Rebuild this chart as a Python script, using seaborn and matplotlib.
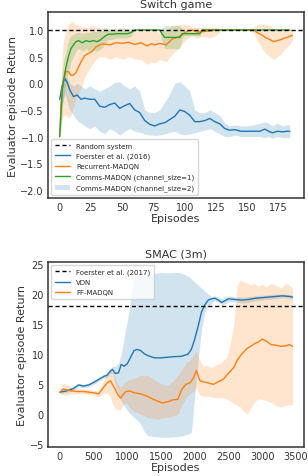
import numpy as np
import pandas as pd
import matplotlib
matplotlib.use("Agg")
import matplotlib.pyplot as plt
import seaborn as sns
from matplotlib.lines import Line2D
from matplotlib.patches import Patch

# ---------------- Switch game data ----------------
sw_blue_ep = [0, 2, 4, 6, 8, 11, 14, 17, 20, 24, 28, 32, 36, 40, 44, 48, 52, 56, 60, 64, 68, 72, 76, 80, 84,
              88, 92, 96, 100, 104, 108, 112, 116, 120, 124, 128, 132, 136, 140, 145, 150, 155, 160, 164, 167,
              170, 174, 178, 182, 184]
sw_blue_mean = [-0.3, -0.05, 0.09, 0.02, -0.12, -0.25, -0.22, -0.3, -0.28, -0.3, -0.3, -0.43, -0.45, -0.4, -0.37,
                -0.47, -0.42, -0.38, -0.5, -0.55, -0.7, -0.77, -0.8, -0.76, -0.74, -0.68, -0.62, -0.5, -0.53,
                -0.6, -0.72, -0.72, -0.7, -0.66, -0.72, -0.76, -0.85, -0.88, -0.87, -0.9, -0.9, -0.9, -0.9,
                -0.86, -0.9, -0.93, -0.9, -0.91, -0.9, -0.9]
sw_blue_hi = [-0.1, 0.05, 0.15, 0.1, 0.0, -0.05, 0.0, -0.05, -0.1, -0.05, -0.1, -0.15, -0.1, -0.05, 0.02, 0.03,
              -0.05, -0.1, -0.05, -0.15, -0.5, -0.55, -0.55, -0.5, -0.35, -0.2, 0.0, 0.03, -0.05, -0.15, -0.5,
              -0.55, -0.55, -0.5, -0.55, -0.6, -0.75, -0.8, -0.78, -0.8, -0.8, -0.78, -0.75, -0.72, -0.75, -0.8,
              -0.75, -0.8, -0.78, -0.78]
sw_blue_lo = [-0.6, -0.4, -0.2, -0.35, -0.5, -0.6, -0.7, -0.75, -0.8, -0.85, -0.8, -0.9, -0.95, -0.85, -0.9,
              -0.97, -0.9, -0.85, -0.9, -0.92, -0.95, -0.97, -0.98, -0.97, -0.95, -0.92, -0.9, -0.95, -0.97,
              -0.95, -0.93, -0.9, -0.88, -0.85, -0.9, -0.95, -1.0, -1.0, -0.97, -1.0, -1.0, -1.0, -1.0, -1.02,
              -1.0, -1.03, -1.0, -1.02, -1.02, -1.02]

sw_orange_ep = [0, 1, 2, 3, 5, 7, 9, 11, 13, 15, 17, 20, 23, 26, 29, 32, 35, 40, 45, 50, 55, 60, 65, 70, 73, 76,
                80, 85, 90, 95, 100, 103, 106, 110, 115, 120, 125, 130, 140, 150, 155, 158, 162, 165, 168, 171,
                174, 177, 180, 183, 186]
sw_orange_mean = [-1.0, -0.45, -0.1, 0.05, 0.22, 0.22, 0.15, 0.15, 0.2, 0.3, 0.4, 0.52, 0.56, 0.6, 0.68, 0.72,
                  0.74, 0.72, 0.76, 0.75, 0.77, 0.73, 0.76, 0.7, 0.74, 0.72, 0.75, 0.72, 0.83, 0.87, 0.95, 0.98,
                  1.0, 0.96, 0.97, 0.98, 1.0, 1.0, 1.0, 1.0, 1.0, 0.95, 0.9, 0.85, 0.82, 0.78, 0.8, 0.82, 0.85,
                  0.87, 0.9]
sw_orange_hi = [-0.8, 0.0, 0.5, 0.8, 1.0, 1.1, 1.15, 1.15, 1.1, 1.1, 1.05, 1.05, 1.05, 1.1, 1.05, 1.05, 1.0, 1.0,
                1.0, 1.05, 1.0, 1.0, 1.0, 1.0, 1.0, 1.0, 0.95, 1.0, 1.08, 1.1, 1.1, 1.1, 1.05, 1.05, 1.05, 1.05,
                1.05, 1.0, 1.0, 1.0, 1.05, 1.1, 1.12, 1.1, 1.08, 1.02, 1.0, 1.0, 1.02, 1.02, 1.0]
sw_orange_lo = [-1.0, -0.8, -0.65, -0.6, -0.6, -0.65, -0.6, -0.45, -0.3, -0.2, -0.1, 0.1, 0.25, 0.35, 0.45, 0.5,
                0.5, 0.45, 0.5, 0.45, 0.5, 0.45, 0.45, 0.35, 0.4, 0.38, 0.45, 0.4, 0.55, 0.65, 0.8, 0.85, 0.9,
                0.85, 0.88, 0.85, 0.9, 1.0, 1.0, 1.0, 0.95, 0.8, 0.65, 0.55, 0.5, 0.45, 0.5, 0.55, 0.65, 0.7, 0.8]

sw_green_ep = [0, 1, 2, 3, 5, 7, 9, 11, 13, 15, 18, 21, 24, 27, 30, 33, 36, 39, 42, 46, 50, 54, 57, 60, 70, 80,
               82, 84, 96, 98, 100, 102, 104, 112, 114, 116, 130, 150, 170, 184]
sw_green_mean = [-1.0, -0.6, -0.15, 0.05, 0.3, 0.5, 0.65, 0.72, 0.78, 0.8, 0.76, 0.8, 0.78, 0.8, 0.78, 0.82,
                 0.88, 0.92, 0.92, 0.93, 0.93, 0.93, 0.95, 1.0, 1.0, 1.0, 0.92, 0.86, 0.86, 0.93, 0.93, 0.93,
                 0.93, 0.93, 1.0, 1.0, 1.0, 1.0, 1.0, 1.0]
sw_green_hi = [-1.0, -0.3, 0.2, 0.4, 0.6, 0.8, 0.9, 0.92, 0.95, 0.96, 0.93, 0.95, 0.96, 0.97, 0.97, 1.0, 1.05,
               1.02, 1.02, 1.02, 1.02, 1.02, 1.02, 1.0, 1.0, 1.0, 1.05, 1.08, 1.08, 1.0, 0.98, 0.98, 0.98, 0.98,
               1.0, 1.0, 1.0, 1.0, 1.0, 1.0]
sw_green_lo = [-1.0, -0.9, -0.5, -0.3, 0.0, 0.2, 0.4, 0.5, 0.6, 0.65, 0.6, 0.65, 0.6, 0.62, 0.6, 0.65, 0.72,
               0.82, 0.82, 0.85, 0.85, 0.85, 0.88, 1.0, 1.0, 1.0, 0.78, 0.65, 0.65, 0.85, 0.89, 0.89, 0.89, 0.89,
               1.0, 1.0, 1.0, 1.0, 1.0, 1.0]

sw_random_level = 1.0
sw_labels = ["Random system", "Foerster et al. (2016)", "Recurrent-MADQN",
             "Comms-MADQN (channel_size=1)", "Comms-MADQN (channel_size=2)"]
sw_xticks = [0, 25, 50, 75, 100, 125, 150, 175]
sw_yticks = [-2.0, -1.5, -1.0, -0.5, 0.0, 0.5, 1.0]

# ---------------- SMAC (3m) data ----------------
sm_vdn_ep = [0, 100, 200, 280, 350, 430, 500, 575, 650, 700, 750, 780, 820, 870, 910, 950, 1000, 1050, 1100,
             1150, 1200, 1250, 1300, 1400, 1500, 1600, 1700, 1800, 1900, 1950, 2000, 2050, 2100, 2150, 2200,
             2250, 2300, 2350, 2400, 2450, 2500, 2600, 2700, 2800, 2900, 3000, 3100, 3200, 3300, 3400, 3450]
sm_vdn_mean = [3.7, 3.9, 4.3, 4.9, 4.7, 4.9, 5.3, 5.8, 6.3, 6.5, 7.2, 7.5, 6.8, 6.9, 8.3, 8.0, 8.4, 9.5, 10.6,
               10.8, 10.6, 10.1, 9.8, 9.4, 9.4, 9.5, 9.6, 9.65, 10.0, 10.8, 12.5, 14.6, 17.0, 18.2, 19.0, 19.2,
               19.3, 19.0, 18.6, 18.9, 19.2, 19.1, 19.0, 19.1, 19.3, 19.4, 19.5, 19.6, 19.7, 19.6, 19.5]
sm_vdn_hi = [3.9, 4.2, 4.6, 5.2, 5.0, 5.2, 5.6, 6.1, 6.6, 6.9, 7.6, 8.0, 8.0, 8.5, 10.0, 12.5, 15.5, 19.0, 23.0,
             23.3, 23.5, 23.6, 23.5, 23.4, 23.6, 23.5, 23.6, 23.5, 23.0, 22.5, 22.0, 21.5, 21.0, 20.5, 20.0,
             19.6, 19.7, 19.5, 19.2, 19.5, 19.7, 19.5, 19.5, 19.6, 19.7, 19.8, 19.9, 20.0, 20.0, 19.9, 19.8]
sm_vdn_lo = [3.5, 3.6, 4.0, 4.6, 4.4, 4.6, 5.0, 5.5, 6.0, 6.1, 6.8, 6.8, 5.0, 3.5, 2.2, 1.5, 0.7, 0.0, -0.5,
             -1.0, -1.6, -2.8, -3.5, -3.7, -3.8, -3.8, -3.7, -3.6, -3.3, -3.0, 3.0, 9.0, 14.0, 17.0, 18.0, 18.5,
             18.9, 18.6, 18.2, 18.4, 18.7, 18.7, 18.5, 18.6, 18.9, 19.0, 19.1, 19.2, 19.4, 19.3, 19.2]

sm_ff_ep = [0, 50, 100, 175, 250, 350, 425, 500, 575, 650, 700, 750, 780, 820, 860, 900, 940, 980, 1040, 1100,
            1200, 1300, 1370, 1450, 1520, 1600, 1670, 1750, 1810, 1870, 1935, 1980, 2025, 2075, 2130, 2180,
            2230, 2280, 2330, 2380, 2430, 2480, 2530, 2580, 2630, 2680, 2730, 2780, 2830, 2880, 2940, 3000,
            3060, 3130, 3200, 3280, 3350, 3400, 3450]
sm_ff_mean = [3.7, 4.2, 4.1, 3.9, 3.8, 3.8, 3.7, 3.6, 3.4, 4.5, 5.2, 5.6, 5.0, 4.2, 3.3, 2.7, 3.3, 3.8, 3.9, 3.6,
              3.4, 3.0, 2.6, 2.2, 1.9, 2.1, 2.4, 2.5, 4.2, 5.0, 5.3, 6.0, 7.3, 5.6, 5.4, 5.3, 5.1, 5.0, 5.3,
              5.6, 5.9, 6.6, 7.2, 7.8, 9.0, 9.8, 10.4, 11.0, 11.3, 11.7, 12.0, 12.5, 12.2, 11.6, 11.5, 11.3,
              11.4, 11.6, 11.3]
sm_ff_hi = [3.9, 5.2, 5.0, 4.5, 4.3, 4.2, 4.1, 4.0, 3.9, 5.5, 6.8, 7.5, 7.0, 6.0, 5.0, 4.5, 5.0, 5.5, 5.8, 6.0,
            6.5, 6.5, 6.0, 5.5, 5.0, 4.8, 5.5, 6.5, 7.5, 8.5, 9.0, 9.8, 10.5, 9.0, 8.0, 8.2, 7.8, 8.0, 8.3, 8.5,
            9.0, 9.5, 12.0, 15.0, 21.5, 22.3, 22.0, 21.8, 21.5, 21.8, 21.3, 21.6, 21.2, 21.8, 21.5, 21.0, 21.8,
            21.5, 21.0]
sm_ff_lo = [3.5, 3.2, 3.2, 3.4, 3.4, 3.4, 3.3, 3.2, 2.9, 3.5, 3.5, 3.0, 1.8, 1.0, 0.8, 0.8, 1.5, 2.0, 1.0, 0.5,
            0.0, -0.5, -0.6, -0.8, -0.6, -0.5, -0.3, 0.0, 1.5, 2.8, 3.5, 3.8, 4.5, 3.2, 3.0, 3.0, 3.0, 2.8, 2.8,
            2.8, 2.7, 2.5, 2.2, 1.8, 1.5, 1.2, 0.5, 0.1, 1.0, 2.0, 2.6, 2.5, 2.3, 2.0, 1.5, 1.2, 1.5, 1.6, 1.6]

sm_foerster_level = 18.0
sm_labels = ["Foerster et al. (2017)", "VDN", "FF-MADQN"]
sm_xticks = [0, 500, 1000, 1500, 2000, 2500, 3000, 3500]
sm_yticks = [-5, 0, 5, 10, 15, 20, 25]

# ---------------- plotting ----------------
sns.set_style("white")
plt.rcParams['font.family'] = ['DejaVu Sans']
pal = sns.color_palette("tab10")
blue, orange, green = pal[0], pal[1], pal[2]

fig = plt.figure(figsize=(3.08, 4.77), dpi=100)
ax1 = fig.add_axes([0.156, 0.583, 0.831, 0.389])
ax2 = fig.add_axes([0.156, 0.061, 0.831, 0.388])

for ax in (ax1, ax2):
    for s in ax.spines.values():
        s.set_color("#333333")
        s.set_linewidth(1.1)
    ax.tick_params(labelsize=7, colors="#333333", length=0, pad=3)

LW = 1.0
BAND = 0.2
LEG = dict(fontsize=5.0, frameon=True, handlelength=2.2, borderpad=0.5, labelspacing=0.6,
           handletextpad=0.9, borderaxespad=0.45)

# top
ax1.axhline(sw_random_level, color="black", ls="--", lw=LW, dashes=(3, 2), zorder=5)
ax1.fill_between(sw_blue_ep, sw_blue_lo, sw_blue_hi, color=blue, alpha=BAND, lw=0)
ax1.fill_between(sw_orange_ep, sw_orange_lo, sw_orange_hi, color=orange, alpha=BAND, lw=0)
ax1.fill_between(sw_green_ep, sw_green_lo, sw_green_hi, color=green, alpha=BAND, lw=0)
sns.lineplot(x=sw_blue_ep, y=sw_blue_mean, ax=ax1, color=blue, lw=LW)
sns.lineplot(x=sw_orange_ep, y=sw_orange_mean, ax=ax1, color=orange, lw=LW)
sns.lineplot(x=sw_green_ep, y=sw_green_mean, ax=ax1, color=green, lw=LW)
ax1.set_xlim(-9.3, 195.3)
ax1.set_ylim(-2.15, 1.33)
ax1.set_xticks(sw_xticks)
ax1.set_yticks(sw_yticks)
ax1.set_yticklabels([f"{v:.1f}".replace("-", "\u2212") for v in sw_yticks])
ax1.set_title("Switch game", fontsize=8, color="#333333", pad=4)
ax1.set_xlabel("Episodes", fontsize=8, color="#333333", labelpad=1)
ax1.set_ylabel("Evaluator episode Return", fontsize=8, color="#333333", labelpad=2)
h1 = [Line2D([], [], color="black", ls="--", lw=LW, dashes=(3, 2)),
      Line2D([], [], color=blue, lw=LW),
      Line2D([], [], color=orange, lw=LW),
      Line2D([], [], color=green, lw=LW),
      Patch(facecolor=blue, alpha=BAND, lw=0)]
ax1.legend(h1, sw_labels, loc="lower left", **LEG)

# bottom
ax2.axhline(sm_foerster_level, color="black", ls="--", lw=LW, dashes=(3, 2), zorder=5)
ax2.fill_between(sm_vdn_ep, sm_vdn_lo, sm_vdn_hi, color=blue, alpha=BAND, lw=0)
ax2.fill_between(sm_ff_ep, sm_ff_lo, sm_ff_hi, color=orange, alpha=BAND, lw=0)
sns.lineplot(x=sm_vdn_ep, y=sm_vdn_mean, ax=ax2, color=blue, lw=LW)
sns.lineplot(x=sm_ff_ep, y=sm_ff_mean, ax=ax2, color=orange, lw=LW)
ax2.set_xlim(-174, 3620)
ax2.set_ylim(-5.4, 25.35)
ax2.set_xticks(sm_xticks)
ax2.set_yticks(sm_yticks)
ax2.set_yticklabels([str(v).replace("-", "\u2212") for v in sm_yticks])
ax2.set_title("SMAC (3m)", fontsize=8, color="#333333", pad=4)
ax2.set_xlabel("Episodes", fontsize=8, color="#333333", labelpad=1)
ax2.set_ylabel("Evaluator episode Return", fontsize=8, color="#333333", labelpad=2)
h2 = [Line2D([], [], color="black", ls="--", lw=LW, dashes=(3, 2)),
      Line2D([], [], color=blue, lw=LW),
      Line2D([], [], color=orange, lw=LW)]
ax2.legend(h2, sm_labels, loc="upper left", **LEG)

fig.savefig("out.png", dpi=100)
